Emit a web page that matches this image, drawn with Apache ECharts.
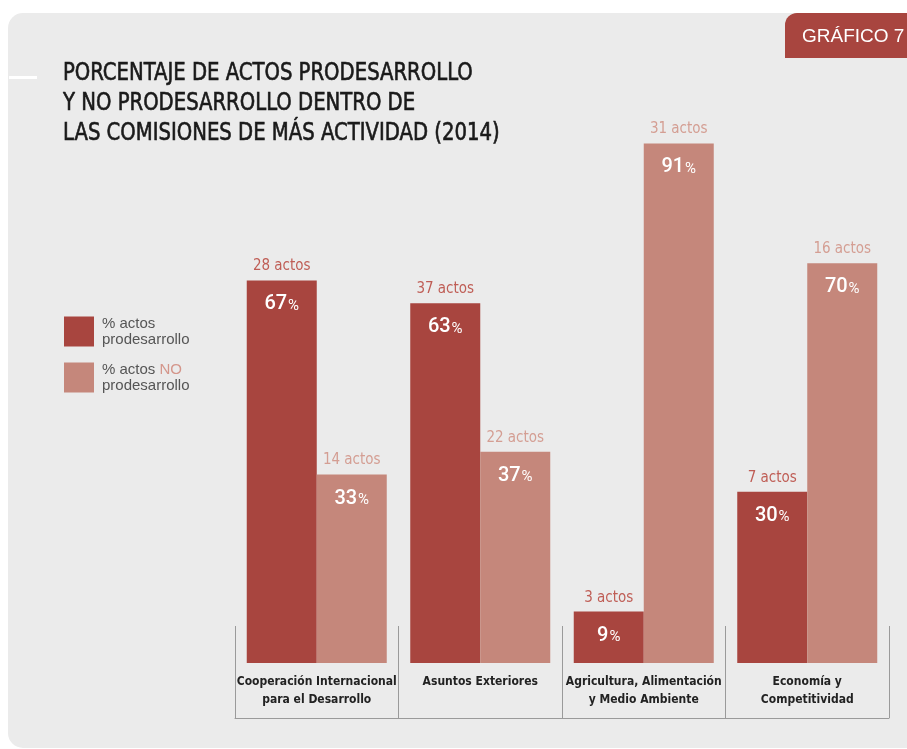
<!DOCTYPE html>
<html>
<head>
<meta charset="utf-8">
<script src="https://cdn.jsdelivr.net/npm/echarts@6/dist/echarts.min.js"></script>
<style>
  html, body { margin: 0; padding: 0; background: #fff; }
  #chart { width: 907px; height: 749px; }
</style>
</head>
<body>
<div id="chart"></div>
<script>
// datos del gráfico
const categories = [
  'Cooperación Internacional\npara el Desarrollo',
  'Asuntos Exteriores',
  'Agricultura, Alimentación\ny Medio Ambiente',
  'Economía y\nCompetitividad'
]
const proPct = [67, 63, 9, 30]
const noPct = [33, 37, 91, 70]
const proActos = [28, 37, 3, 7]
const noActos = [14, 22, 31, 16]

const DARK = '#a8453f'
const LIGHT = '#c5877b'
const NARROW = "'DejaVu Sans Condensed', sans-serif"
const TITLE = 'PORCENTAJE DE ACTOS PRODESARROLLO\nY NO PRODESARROLLO DENTRO DE\nLAS COMISIONES DE MÁS ACTIVIDAD (2014)'

const chart = echarts.init(document.getElementById('chart'))

function barLabel(actos, actosColor) {
  return {
    show: true,
    position: 'top',
    distance: 0,
    offset: [0, 52],
    formatter: p => '{a|' + actos[p.dataIndex] + ' actos}\n{p|' + p.value + '}{s|%}',
    rich: {
      a: { fontFamily: NARROW, fontSize: 15, color: actosColor, lineHeight: 20 },
      p: { fontFamily: 'Roboto', fontWeight: 500, fontSize: 20, color: '#fff', lineHeight: 56 },
      s: { fontFamily: 'Roboto', fontSize: 15, color: '#fff', lineHeight: 56, padding: [4, 0, 0, 1] }
    }
  }
}

const option = {
  animation: false,
  graphic: [
    {
      type: 'rect', z: -10,
      shape: { x: 8, y: 13, width: 940, height: 735, r: 15 },
      style: { fill: '#ebebeb' }
    },
    {
      type: 'rect', z: -9,
      shape: { x: 785, y: 13, width: 140, height: 45, r: [12, 0, 0, 0] },
      style: { fill: DARK }
    },
    {
      type: 'text', z: -8, x: 802, y: 27,
      style: { text: 'GRÁFICO 7', fill: '#fff', font: "19px 'Liberation Sans', sans-serif" }
    },
    {
      type: 'rect', z: -9,
      shape: { x: 9, y: 76, width: 28, height: 3 },
      style: { fill: '#fff' }
    },
    {
      // título, estrechado para parecerse a la condensada original
      type: 'text', z: -8, x: 63, y: 59, scaleX: 0.91,
      style: {
        text: TITLE,
        fill: '#1a1a1a',
        stroke: '#1a1a1a',
        lineWidth: 0.6,
        font: "24px 'DejaVu Sans Condensed', sans-serif",
        lineHeight: 30
      }
    }
  ],
  legend: {
    orient: 'vertical',
    left: 64,
    top: 316,
    padding: 0,
    itemWidth: 30,
    itemHeight: 30,
    itemGap: 15,
    icon: 'rect',
    data: ['pro', 'no'],
    formatter: name => name === 'pro'
      ? '{t|% actos}\n{t|prodesarrollo}'
      : '{t|% actos }{n|NO}\n{t|prodesarrollo}',
    textStyle: {
      padding: [0, 0, 0, 3],
      rich: {
        t: { fontFamily: "'Liberation Sans', sans-serif", fontSize: 15, color: '#555', lineHeight: 16 },
        n: { fontFamily: "'Liberation Sans', sans-serif", fontSize: 15, color: '#d4968b', lineHeight: 16 }
      }
    }
  },
  grid: { left: 235, right: 18, top: 92, bottom: 86 },
  xAxis: [
    {
      type: 'category',
      data: categories,
      axisLine: { show: false },
      axisTick: { show: false },
      axisLabel: {
        margin: 10,
        interval: 0,
        fontFamily: NARROW,
        fontWeight: 'bold',
        fontSize: 12,
        lineHeight: 18,
        color: '#222',
        verticalAlign: 'top'
      }
    },
    {
      type: 'category',
      data: categories,
      position: 'bottom',
      offset: 55,
      axisLine: { show: true, lineStyle: { color: '#9a9a9a', width: 1 } },
      axisTick: { show: true, inside: true, length: 92, interval: 0, lineStyle: { color: '#9a9a9a', width: 1 } },
      axisLabel: { show: false }
    }
  ],
  yAxis: { type: 'value', min: 0, max: 100, show: false },
  series: [
    {
      name: 'pro',
      type: 'bar',
      data: proPct,
      barWidth: 70,
      barGap: 0,
      itemStyle: { color: DARK },
      label: barLabel(proActos, '#bf5d55')
    },
    {
      name: 'no',
      type: 'bar',
      data: noPct,
      barWidth: 70,
      barGap: 0,
      itemStyle: { color: LIGHT },
      label: barLabel(noActos, '#d49e93')
    }
  ]
}

chart.setOption(option)
</script>
</body>
</html>
